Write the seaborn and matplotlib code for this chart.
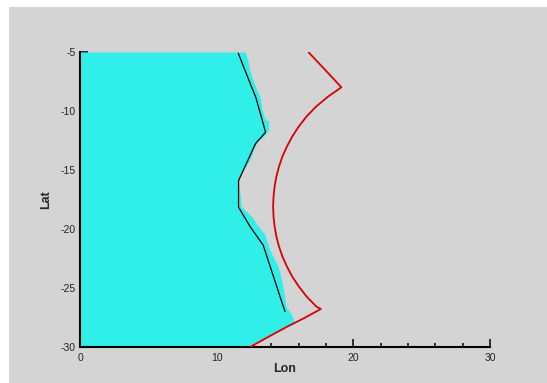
import matplotlib
matplotlib.use('Agg')
import matplotlib.pyplot as plt
import seaborn as sns
import pandas as pd
from matplotlib.patches import Rectangle
from matplotlib.ticker import MultipleLocator

# right edge of the cyan (wet) region
cyan_lat = [-5.0, -5.8, -6.5, -7.2, -8.1, -8.9, -9.8, -10.6, -10.9, -11.6, -12.2, -12.5, -13.0,
            -14.2, -15.3, -15.9, -18.1, -19.0, -19.8, -20.4, -21.8, -23.2, -24.6, -26.6, -27.3,
            -28.0, -29.0, -30.0]
cyan_lon = [12.1, 12.3, 12.4, 12.6, 12.9, 13.2, 13.3, 13.5, 13.8, 13.8, 13.4, 13.05, 12.8,
            12.4, 11.8, 11.6, 11.8, 12.6, 13.05, 13.5, 13.9, 14.5, 14.8, 15.1, 15.5,
            15.7, 13.8, 12.1]

# black line
black_lon = [11.58, 12.50, 12.88, 13.58, 12.85, 11.60, 11.60, 12.45, 13.40, 15.00]
black_lat = [-5.1, -7.8, -8.9, -11.8, -12.75, -15.9, -18.15, -19.8, -21.36, -27.0]

# red boundary
red_lon = [16.73, 19.13, 18.16, 17.29, 16.58, 16.01, 15.53, 15.14, 14.81, 14.56, 14.37, 14.24,
           14.16, 14.13, 14.16, 14.24, 14.37, 14.56, 14.81, 15.14, 15.53, 16.01, 16.58, 17.29,
           17.62, 16.4, 15.12, 13.8, 12.44]
red_lat = [-5.03, -7.99, -8.77, -9.61, -10.46, -11.31, -12.16, -13.01, -13.86, -14.71, -15.55,
           -16.40, -17.25, -18.09, -18.94, -19.79, -20.64, -21.48, -22.33, -23.18, -24.03,
           -24.87, -25.72, -26.57, -26.78, -27.55, -28.3, -29.13, -30.0]

sns.set_style('white')
plt.rcParams['font.family'] = ['Liberation Sans', 'DejaVu Sans']
plt.rcParams['axes.unicode_minus'] = False

fig = plt.figure(figsize=(5.47, 3.83), dpi=100, facecolor='white')
fig.patches.append(Rectangle((9 / 547, 0), 1, 1 - 7 / 383, transform=fig.transFigure,
                             facecolor='#d4d4d4', edgecolor='none', zorder=-10))
ax = fig.add_axes([80 / 547, 36 / 383, 410 / 547, 295 / 383])
ax.set_facecolor('none')

ax.fill_betweenx(cyan_lat, 0, cyan_lon, color='#30efe9', linewidth=0, zorder=1)

black = pd.DataFrame({'Lon': black_lon, 'Lat': black_lat})
red = pd.DataFrame({'Lon': red_lon, 'Lat': red_lat})
sns.lineplot(data=black, x='Lon', y='Lat', sort=False, estimator=None, color='black',
             linewidth=0.9, ax=ax, zorder=3)
sns.lineplot(data=red, x='Lon', y='Lat', sort=False, estimator=None, color='#d80000',
             linewidth=1.3, ax=ax, zorder=3)

ax.set_xlim(0, 30)
ax.set_ylim(-30, -5)
ax.xaxis.set_major_locator(MultipleLocator(10))
ax.xaxis.set_minor_locator(MultipleLocator(2))
ax.yaxis.set_major_locator(MultipleLocator(5))
ax.yaxis.set_minor_locator(MultipleLocator(1))
ax.tick_params(which='both', direction='in', color='black', width=1.1,
               labelsize=7.5, labelcolor='#222222')
ax.tick_params(which='major', length=5.5)
ax.tick_params(which='minor', length=3)
ax.tick_params(axis='x', which='both', pad=4.5, bottom=True)
ax.tick_params(axis='y', which='both', pad=3, left=True)

for side in ['top', 'right']:
    ax.spines[side].set_visible(False)
for side in ['left', 'bottom']:
    ax.spines[side].set_color('black')
    ax.spines[side].set_linewidth(1.5)

ax.set_xlabel('Lon', fontsize=9, fontweight='bold', labelpad=0)
ax.set_ylabel('Lat', fontsize=9, fontweight='bold', labelpad=6)

fig.savefig('out.png', dpi=100)
